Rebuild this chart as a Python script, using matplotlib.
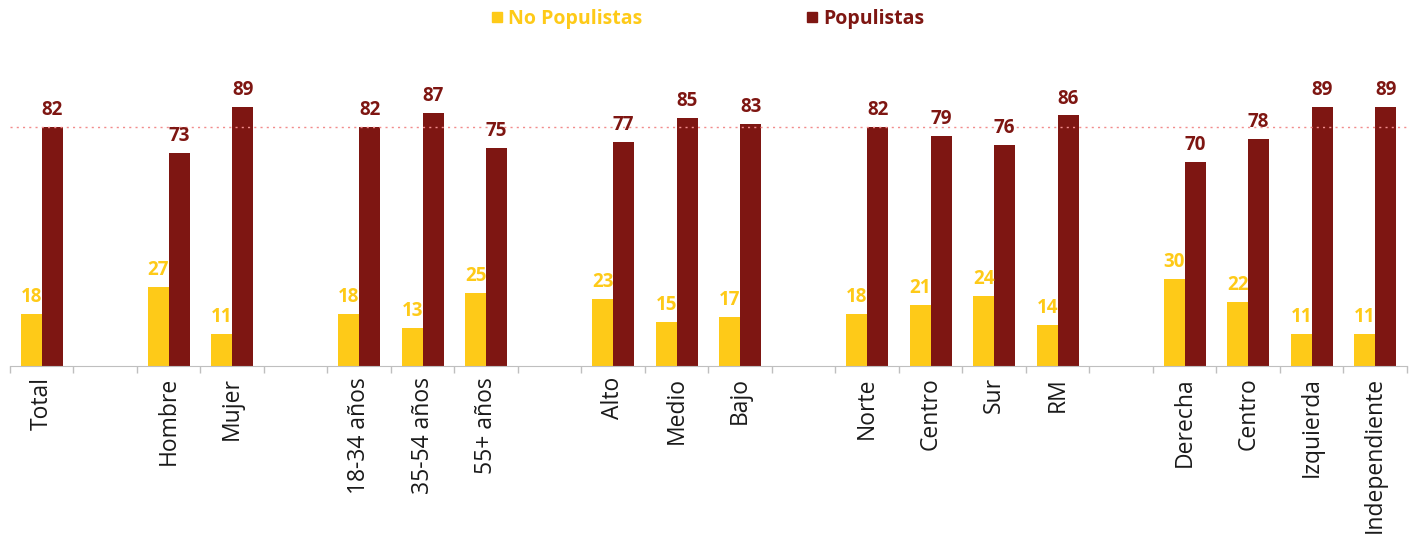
import matplotlib
matplotlib.use("Agg")
import matplotlib.pyplot as plt
from matplotlib.lines import Line2D
import numpy as np

# Categories ("" = empty spacer slot between groups)
CATEGORIES = [
    "Total", "",
    "Hombre", "Mujer", "",
    "18-34 años", "35-54 años", "55+ años", "",
    "Alto", "Medio", "Bajo", "",
    "Norte", "Centro", "Sur", "RM", "",
    "Derecha", "Centro", "Izquierda", "Independiente",
]
NO_POPULISTAS = [18, None, 27, 11, None, 18, 13, 25, None, 23, 15, 17, None,
                 18, 21, 24, 14, None, 30, 22, 11, 11]
POPULISTAS = [82, None, 73, 89, None, 82, 87, 75, None, 77, 85, 83, None,
              82, 79, 76, 86, None, 70, 78, 89, 89]
REF_LINE = 82

YELLOW = "#FECA18"
DARK_RED = "#7E1612"

plt.rcParams["font.family"] = ["Open Sans", "DejaVu Sans"]

fig = plt.figure(figsize=(14.16, 5.44), dpi=100)
ax = fig.add_axes([0.00706, 0.327, 0.9865, 0.60])

x = np.arange(len(CATEGORIES))
idx = [i for i, v in enumerate(POPULISTAS) if v is not None]
xs = x[idx]
no_vals = [NO_POPULISTAS[i] for i in idx]
po_vals = [POPULISTAS[i] for i in idx]

w = 0.33
b1 = ax.bar(xs - w / 2, no_vals, width=w, color=YELLOW)
b2 = ax.bar(xs + w / 2, po_vals, width=w, color=DARK_RED)
ax.bar_label(b1, padding=5, color=YELLOW, fontsize=13.5, fontweight="bold")
ax.bar_label(b2, padding=5, color=DARK_RED, fontsize=13.5, fontweight="bold")

# reference dotted line
ax.axhline(REF_LINE, color="#F28C8C", linestyle=(0, (1.5, 3)), linewidth=1)

ax.set_xlim(-0.5, len(CATEGORIES) - 0.5)
ax.set_ylim(0, 112)

ax.set_xticks(x)
ax.set_xticklabels(CATEGORIES, rotation=90, fontsize=16.5, color="#1a1a1a")
ax.tick_params(axis="x", which="major", length=0, pad=8)
ax.set_xticks(np.arange(-0.5, len(CATEGORIES)), minor=True)
ax.tick_params(axis="x", which="minor", length=5, color="#BFBFBF", width=1)

ax.yaxis.set_visible(False)
for s in ["top", "right", "left"]:
    ax.spines[s].set_visible(False)
ax.spines["bottom"].set_color("#BFBFBF")

handles = [
    Line2D([], [], marker="s", linestyle="", color=YELLOW, markersize=7),
    Line2D([], [], marker="s", linestyle="", color=DARK_RED, markersize=7),
]
leg = fig.legend(handles, ["No Populistas", "Populistas"], loc="center",
                 bbox_to_anchor=(0.5, 0.965), ncol=2, frameon=False,
                 handlelength=0.5, handletextpad=0.3, columnspacing=8.5,
                 prop={"size": 14, "weight": "bold"},
                 labelcolor=[YELLOW, DARK_RED])

fig.savefig("out.png", dpi=100)
